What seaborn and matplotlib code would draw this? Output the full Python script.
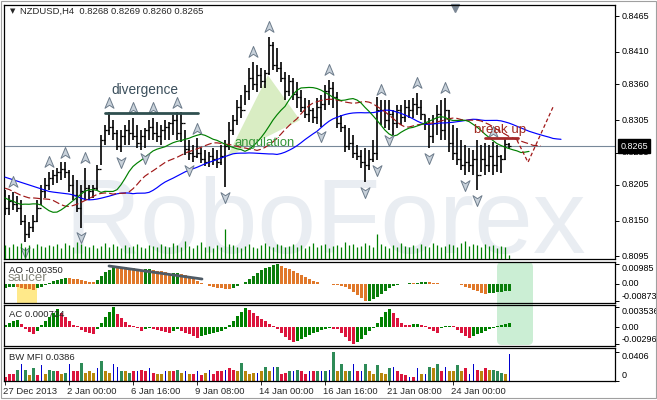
import matplotlib
matplotlib.use("Agg")
import matplotlib.pyplot as plt
import matplotlib.transforms as mtransforms
from matplotlib.patches import FancyBboxPatch, Polygon, Rectangle
from matplotlib.path import Path
import numpy as np
import seaborn as sns

# ---- NZDUSD H4 bars ----
high = np.array([
    0.8197, 0.8189, 0.8194, 0.8188, 0.8182, 0.8159, 0.8148, 0.8159, 0.8182, 0.8205,
    0.8216, 0.8225, 0.8228, 0.8231, 0.8240, 0.8240, 0.8228, 0.8220, 0.8213, 0.8205,
    0.8231, 0.8205, 0.8205, 0.8236, 0.8282, 0.8297, 0.8317, 0.8305, 0.8290, 0.8290,
    0.8297, 0.8305, 0.8308, 0.8297, 0.8290, 0.8293, 0.8305, 0.8308, 0.8302, 0.8297,
    0.8305, 0.8302, 0.8313, 0.8317, 0.8317, 0.8290, 0.8274, 0.8267, 0.8277, 0.8262,
    0.8259, 0.8256, 0.8262, 0.8259, 0.8267, 0.8274, 0.8302, 0.8313, 0.8336, 0.8344,
    0.8359, 0.8385, 0.8395, 0.8390, 0.8385, 0.8382, 0.8433, 0.8425, 0.8416, 0.8395,
    0.8379, 0.8375, 0.8370, 0.8364, 0.8351, 0.8339, 0.8336, 0.8324, 0.8339, 0.8344,
    0.8359, 0.8367, 0.8364, 0.8348, 0.8313, 0.8297, 0.8293, 0.8282, 0.8267, 0.8259,
    0.8262, 0.8259, 0.8274, 0.8341, 0.8336, 0.8336, 0.8336, 0.8321, 0.8328, 0.8328,
    0.8336, 0.8336, 0.8339, 0.8347, 0.8336, 0.8313, 0.8308, 0.8313, 0.8328, 0.8336,
    0.8339, 0.8321, 0.8297, 0.8293, 0.8274, 0.8267, 0.8262, 0.8259, 0.8274, 0.8267,
    0.8270, 0.8267, 0.8271, 0.8267, 0.8251, 0.8277, 0.8269])
low = np.array([
    0.8159, 0.8159, 0.8166, 0.8163, 0.8143, 0.8117, 0.8123, 0.8132, 0.8148, 0.8174,
    0.8185, 0.8197, 0.8205, 0.8208, 0.8213, 0.8216, 0.8194, 0.8182, 0.8163, 0.8139,
    0.8182, 0.8182, 0.8185, 0.8197, 0.8236, 0.8267, 0.8282, 0.8274, 0.8259, 0.8256,
    0.8267, 0.8267, 0.8274, 0.8262, 0.8259, 0.8262, 0.8274, 0.8274, 0.8271, 0.8267,
    0.8274, 0.8274, 0.8282, 0.8274, 0.8271, 0.8251, 0.8243, 0.8240, 0.8246, 0.8239,
    0.8234, 0.8233, 0.8236, 0.8231, 0.8236, 0.8202, 0.8259, 0.8282, 0.8297, 0.8308,
    0.8328, 0.8336, 0.8351, 0.8348, 0.8354, 0.8354, 0.8375, 0.8382, 0.8379, 0.8364,
    0.8336, 0.8342, 0.8336, 0.8324, 0.8317, 0.8308, 0.8302, 0.8300, 0.8299, 0.8295,
    0.8321, 0.8328, 0.8324, 0.8293, 0.8287, 0.8256, 0.8259, 0.8246, 0.8243, 0.8231,
    0.8209, 0.8228, 0.8240, 0.8243, 0.8297, 0.8293, 0.8290, 0.8282, 0.8293, 0.8297,
    0.8302, 0.8308, 0.8308, 0.8313, 0.8305, 0.8290, 0.8262, 0.8270, 0.8282, 0.8274,
    0.8274, 0.8256, 0.8243, 0.8236, 0.8228, 0.8220, 0.8225, 0.8220, 0.8197, 0.8225,
    0.8220, 0.8225, 0.8220, 0.8225, 0.8223, 0.8243, 0.8260])
close = np.array([
    0.8170, 0.8180, 0.8175, 0.8170, 0.8150, 0.8130, 0.8140, 0.8150, 0.8170, 0.8195,
    0.8205, 0.8215, 0.8220, 0.8225, 0.8230, 0.8225, 0.8205, 0.8190, 0.8170, 0.8195,
    0.8200, 0.8195, 0.8200, 0.8230, 0.8275, 0.8290, 0.8295, 0.8285, 0.8265, 0.8280,
    0.8290, 0.8285, 0.8280, 0.8270, 0.8280, 0.8290, 0.8295, 0.8285, 0.8280, 0.8290,
    0.8295, 0.8300, 0.8305, 0.8285, 0.8300, 0.8260, 0.8255, 0.8250, 0.8255, 0.8245,
    0.8240, 0.8250, 0.8245, 0.8240, 0.8250, 0.8265, 0.8290, 0.8305, 0.8325, 0.8320,
    0.8350, 0.8370, 0.8360, 0.8375, 0.8365, 0.8378, 0.8420, 0.8390, 0.8385, 0.8370,
    0.8350, 0.8365, 0.8345, 0.8340, 0.8325, 0.8315, 0.8320, 0.8310, 0.8325, 0.8330,
    0.8350, 0.8355, 0.8340, 0.8300, 0.8295, 0.8265, 0.8270, 0.8255, 0.8250, 0.8240,
    0.8235, 0.8245, 0.8255, 0.8320, 0.8320, 0.8305, 0.8315, 0.8300, 0.8320, 0.8310,
    0.8325, 0.8320, 0.8330, 0.8325, 0.8315, 0.8300, 0.8280, 0.8300, 0.8315, 0.8290,
    0.8320, 0.8270, 0.8255, 0.8245, 0.8235, 0.8240, 0.8235, 0.8245, 0.8220, 0.8245,
    0.8235, 0.8250, 0.8235, 0.8250, 0.8245, 0.8268, 0.8265])
first_open = 0.8185

# tick volume, hundreds of ticks
volume = np.array([
    14, 12, 15, 13, 16, 12, 14, 11, 15, 13, 12, 14, 13, 15, 11, 16, 14, 12, 17, 15,
    13, 12, 14, 11, 13, 16, 12, 15, 13, 11, 14, 12, 13, 15, 12, 11, 14, 13, 12, 15,
    13, 12, 16, 14, 12, 18, 13, 11, 14, 17, 12, 13, 11, 14, 12, 30, 15, 14, 12, 11,
    13, 15, 12, 11, 14, 16, 13, 12, 15, 14, 12, 13, 15, 12, 14, 11, 13, 16, 12, 14,
    15, 11, 13, 14, 12, 17, 14, 15, 12, 13, 16, 14, 12, 25, 15, 13, 11, 14, 12, 16,
    13, 12, 14, 11, 15, 13, 12, 16, 14, 12, 13, 15, 14, 12, 16, 18, 13, 15, 14, 12,
    15, 13, 14, 11, 13, 12, 4]) * 100

# Awesome Oscillator (x 1e-4)
ao = np.array([
    -19, -16, -13, -16, -21, -25, -27, -29, -22, -13, -4, 6, 14, 20, 26, 32, 30, 27, 23, 19,
    15, 12, 10, 22, 41, 60, 72, 90, 88, 86, 83, 80, 78, 75, 71, 73, 75, 71, 67, 63,
    58, 52, 54, 56, 52, 45, 36, 26, 16, 7, -2, -8, -13, -18, -21, -24, -26, -21, -11, 0,
    11, 26, 41, 56, 68, 79, 87, 93, 98.5, 90, 82, 73, 64, 54, 43, 34, 24, 15, 8, 2,
    -1.5, -2, -3, -6, -11, -15, -26, -41, -56, -71, -87.3, -84, -75, -64, -49, -34, -19, -8, -3, 1.5,
    2, 4, 3, 5, 9, 11, 10, 7.5, 4.5, 2, 1.5, 0.5, -1, -2, -7, -15, -22, -30, -37, -43,
    -49, -46, -43, -40, -38, -36, -35]) * 1e-4

# Accelerator Oscillator (x 1e-4)
ac = np.array([
    4, 7, 11, 12, 6, -3, -9, -13, -7, 4, 11, 18, 25, 32, 25, 18, 11, 4, 1.5, -6,
    -9, -11, -12, -4, 7, 18, 27, 35.36, 23, 16, 9, 4, 1.5, -2, -7, -4, -1.5, -4, -6, -7,
    -9, -10, -7, -4, -7, -10, -13, -16, -19, -16, -14, -12, -11, -9, -7, -4, 4, 11, 20, 27,
    33, 30, 25, 20, 14, 10, 6, 1.5, -4, -11, -18, -23, -27, -25, -21, -18, -14, -11, -9, -6,
    -3, -1.5, -3, -4, -11, -18, -25, -29.6, -27, -21, -14, -7, -2, 7, 18, 27, 32, 25, 16, 7,
    4, 3.5, 4.5, 6, 4, 1.5, -3, -7, -11, -2, 1, 2, 1.5, -6, -11, -16, -19, -16, -13, -11,
    -7, -4, -2, 1.5, 3, 4.5, 7.24]) * 1e-4

# Market Facilitation Index (x 1e-4) and its colour state per bar
mfi = np.array([
    57, 86, 100, 157, 229, 157, 72, 186, 72, 215, 100, 157, 143, 129, 86, 114, 243, 129, 129, 257,
    114, 129, 114, 172, 272, 129, 114, 229, 200, 143, 143, 114, 129, 143, 157, 129, 172, 114, 100, 100,
    143, 129, 129, 157, 114, 129, 100, 86, 143, 72, 114, 157, 100, 129, 129, 157, 172, 157, 129, 257,
    129, 100, 114, 114, 129, 200, 143, 200, 200, 100, 114, 143, 143, 157, 129, 100, 143, 143, 143, 143,
    143, 157, 406, 129, 243, 129, 129, 243, 129, 129, 229, 129, 100, 215, 114, 100, 186, 200, 129, 100,
    72, 57, 57, 172, 100, 100, 200, 172, 229, 143, 200, 143, 143, 215, 143, 172, 100, 229, 157, 143,
    172, 157, 157, 129, 114, 86, 386]) * 1e-4
mfi_state = ("rrrgbgygrb" "yggrygbrrg" "yyybgyybbg" "ygrbrrbryy" "byrgybyrbr" "ybrrrbrryg"
             "yyybygybgr" "rgbgrrbrgb" "gbgygygbrb" "gyygyygbrr" "rbrbybgygr" "byygyrbbry" "rygggyb")

# alligator values visible before the first shifted point
jaw_lead = [0.8217, 0.8215, 0.8213, 0.8211, 0.8209, 0.8207, 0.8205, 0.8203, 0.8201, 0.8199,
            0.8197, 0.8195, 0.8194]
teeth_lead = [0.8200, 0.8198, 0.8195, 0.8192, 0.8189, 0.8187, 0.8185, 0.8185]
lips_lead = [0.8185, 0.8182, 0.8180, 0.8177, 0.8175]

frac_up = [2, 11, 15, 20, 26, 32, 37, 43, 48, 62, 66, 81, 94, 103, 110, 122]
frac_down = [5, 19, 29, 35, 46, 55, 79, 90, 93, 96, 106, 115, 118]

date_ticks = [0, 16, 32, 48, 64, 80, 96, 112]
date_labels = ["27 Dec 2013", "2 Jan 00:00", "6 Jan 16:00", "9 Jan 08:00",
               "14 Jan 00:00", "16 Jan 16:00", "21 Jan 08:00", "24 Jan 00:00"]
price_ticks = [0.8465, 0.8410, 0.8360, 0.8305, 0.8255, 0.8205, 0.8150, 0.8095]
ao_ticks = [0.00985, 0.0, -0.00873]
ac_ticks = [0.003536, 0.0, -0.00296]
mfi_ticks = [0.0406, 0.0]

# analyst drawings (bar index, value)
divergence_x, divergence_y = [25, 48.25], [0.8316, 0.8316]
ao_div_x, ao_div_y = [26, 49.25], [0.0090, 0.0025]
angulation_x, angulation_y = [55.5, 65.75, 73.75], [0.8248, 0.8374, 0.8305]
breakup_x, breakup_y = [120, 128.25], [0.8277, 0.8277]
forecast_x, forecast_y = [128, 130.75, 137], [0.8274, 0.8240, 0.8325]
saucer_span = [3, 8]


def smma(values, period, seed):
    out, prev = [], seed
    for v in values:
        prev = (prev * (period - 1) + v) / period
        out.append(prev)
    return np.array(out)


sns.set_style("white")
plt.rcParams["font.family"] = ["Liberation Sans", "DejaVu Sans"]

W, H = 657, 400
fig = plt.figure(figsize=(W / 100, H / 100), dpi=100, facecolor="white")
px = mtransforms.Affine2D().scale(1 / W, -1 / H).translate(0, 1) + fig.transFigure


def panel(top, bottom):
    return fig.add_axes([4 / W, 1 - bottom / H, 611 / W, (bottom - top) / H])


ax = panel(4.5, 259)
ax_ao = panel(262, 303)
ax_ac = panel(305, 346)
ax_mfi = panel(348, 380.5)

n = len(close)
x = np.arange(n)
opens = np.concatenate([[first_open], close[:-1]])

# volume underneath the price bars
axv = ax.twinx()
axv.set_ylim(0, 25500)
axv.vlines(x, 0, volume, color="#008000", lw=0.9)
axv.axis("off")

ax.text(64, 253, "RoboForex", transform=px, fontsize=76, color="#e9edf2", zorder=0.1)

# OHLC bars
ax.vlines(x, low, high, color="black", lw=1.2, zorder=3)
ax.hlines(opens, x - 0.5, x, color="black", lw=0.9, zorder=3)
ax.hlines(close, x, x + 0.5, color="black", lw=0.9, zorder=3)

# alligator: (lead values, smoothing period, colour); shift = len(lead)
median = (high + low) / 2
for lead, period, color in [(jaw_lead, 21, "#0000ff"), (teeth_lead, 13, "#a01818"),
                            (lips_lead, 8, "#008000")]:
    shift = len(lead)
    line = smma(median, period, lead[-1])
    lx = np.concatenate([np.arange(shift), x + shift])
    ly = np.concatenate([lead, line])
    sns.lineplot(x=lx, y=ly, ax=ax, color=color, lw=0.85, estimator=None, sort=False,
                 legend=False, zorder=4)
    if color == "#a01818":
        ax.lines[-1].set_dashes([6, 2.5])

# fractals
up_arrow = Path([(0, 1), (0.75, -0.8), (0, -0.3), (-0.75, -0.8), (0, 1)],
                [Path.MOVETO, Path.LINETO, Path.LINETO, Path.LINETO, Path.CLOSEPOLY])
down_arrow = Path(up_arrow.vertices * [1, -1], up_arrow.codes)
ax.scatter(frac_up, high[frac_up] + 0.0015, marker=up_arrow, s=75,
           facecolor="#c8d1da", edgecolor="#6d7c8b", lw=0.7, zorder=5)
ax.scatter(frac_down, low[frac_down] - 0.0015, marker=down_arrow, s=75,
           facecolor="#c8d1da", edgecolor="#6d7c8b", lw=0.7, zorder=5)

# drawings
ax.add_patch(Polygon(np.column_stack([angulation_x, angulation_y]), closed=True,
                     fc="#d9edc3", ec="none", zorder=1))
ax.plot(divergence_x, divergence_y, color="#2f4f4f", lw=2.0, zorder=6)
ax.text(35, 0.8351, "divergence", color="#3b4f5c", fontsize=9.8, ha="center", va="center")
ax.text(65, 0.8270, "angulation", color="#36963a", fontsize=9.4, ha="center", va="center", zorder=6)
ax.plot(breakup_x, breakup_y, color="#a52a2a", lw=2.0, zorder=6)
ax.plot(forecast_x, forecast_y, color="#a01818", lw=0.9, dashes=[3, 2], zorder=6)
ax.text(123.75, 0.8290, "break up", color="#a0281e", fontsize=9.6, ha="center", va="center", zorder=6)

ax.axhline(close[-1], color="#778899", lw=0.8, zorder=2)
ax.text(1.009, close[-1], f"{close[-1]:.4f}", color="white", fontsize=6.5, va="center",
        transform=mtransforms.blended_transform_factory(ax.transAxes, ax.transData),
        bbox=dict(boxstyle="square,pad=0.25", fc="black", ec="black"), clip_on=False, zorder=10)
ax.plot([112.5], [0.985], marker="v", ms=6, color="#7b8794", clip_on=False,
        transform=mtransforms.blended_transform_factory(ax.transData, ax.transAxes))
ax.text(0.009, 0.972, "\u25bc", transform=ax.transAxes, fontsize=5, va="center",
        family="DejaVu Sans")
ax.text(0.026, 0.972,
        f"NZDUSD,H4  {opens[-1]:.4f} {high[-1]:.4f} {low[-1]:.4f} {close[-1]:.4f}",
        transform=ax.transAxes, fontsize=6.8, va="center")

# AO
ao_colors = ["#0b7d0b" if i == 0 or ao[i] > ao[i - 1] else "#e0782a" for i in range(n)]
ax_ao.fill_between(saucer_span, -0.0095, 0, color="#ffe98a", lw=0, zorder=0.5)
ax_ao.bar(x, ao, width=0.75, color=ao_colors, lw=0, zorder=2)
ax_ao.plot(ao_div_x, ao_div_y, color="#4f5b66", lw=2.0, zorder=3)
ax_ao.text(0.008, 0.80, f"AO {ao[-1]:.5f}", transform=ax_ao.transAxes, fontsize=6.8, va="center")
ax_ao.text(0.0065, 0.61, "saucer", transform=ax_ao.transAxes, fontsize=9.5, color="#85857a",
           va="center", zorder=4)

# AC
ac_colors = ["#008000" if i == 0 or ac[i] > ac[i - 1] else "#dc143c" for i in range(n)]
ax_ac.bar(x, ac, width=0.75, color=ac_colors, lw=0, zorder=2)
ax_ac.text(0.008, 0.78, f"AC {ac[-1]:.6f}", transform=ax_ac.transAxes, fontsize=6.8, va="center")

# BW MFI
state_colors = {"g": "#2e8b57", "y": "#b8860b", "r": "#dc143c", "b": "#0000cd"}
widths = [0.25 if s == "b" else 0.75 for s in mfi_state]
ax_mfi.bar(x, mfi, width=widths, color=[state_colors[s] for s in mfi_state], lw=0, zorder=2)
ax_mfi.text(0.008, 0.72, f"BW MFI {mfi[-1]:.4f}", transform=ax_mfi.transAxes, fontsize=6.8,
            va="center")

fig.add_artist(FancyBboxPatch((497, 262), 36, 83, boxstyle="round,pad=0,rounding_size=5",
                              transform=px, fc="#cbeed4", ec="none", zorder=-1))
fig.add_artist(Rectangle((0.5, 0.5), 655, 397, transform=px, fill=False, ec="#a0a0a0", lw=0.8))


def style_panel(a, ylim, ticks, labels, vas):
    a.set_facecolor("none")
    a.set_xlim(-0.25, 152.5)
    a.set_ylim(*ylim)
    a.yaxis.tick_right()
    a.set_yticks(ticks)
    a.set_yticklabels(labels)
    for lbl, va in zip(a.get_yticklabels(), vas):
        lbl.set_verticalalignment(va)
    a.tick_params(axis="y", direction="out", length=2.9, width=0.7, pad=2.2, labelsize=6.5,
                  colors="black")
    a.tick_params(axis="x", bottom=False, labelbottom=False)
    for s in a.spines.values():
        s.set_visible(True)
        s.set_color("black")
        s.set_linewidth(0.9)


style_panel(ax, (0.80908, 0.84832), price_ticks, [f"{t:.4f}" for t in price_ticks],
            ["center"] * len(price_ticks))
style_panel(ax_ao, (-0.0095, 0.0110), ao_ticks, ["0.00985", "0.00", "-0.00873"],
            ["top", "center", "bottom"])
style_panel(ax_ac, (-0.003325, 0.00385), ac_ticks, ["0.003536", "0.00", "-0.00296"],
            ["top", "center", "bottom"])
style_panel(ax_mfi, (0, 0.0465), mfi_ticks, ["0.0406", "0"], ["top", "bottom"])

ax_mfi.set_xticks(date_ticks)
ax_mfi.set_xticklabels(date_labels)
ax_mfi.tick_params(axis="x", bottom=True, labelbottom=True, direction="out", length=2.9,
                   width=0.7, pad=2, labelsize=6.8)
shift_left = mtransforms.ScaledTranslation(-2 / 100, 0, fig.dpi_scale_trans)
for lbl in ax_mfi.get_xticklabels():
    lbl.set_horizontalalignment("left")
    lbl.set_transform(lbl.get_transform() + shift_left)

fig.savefig("out.png", dpi=100, facecolor="white")
